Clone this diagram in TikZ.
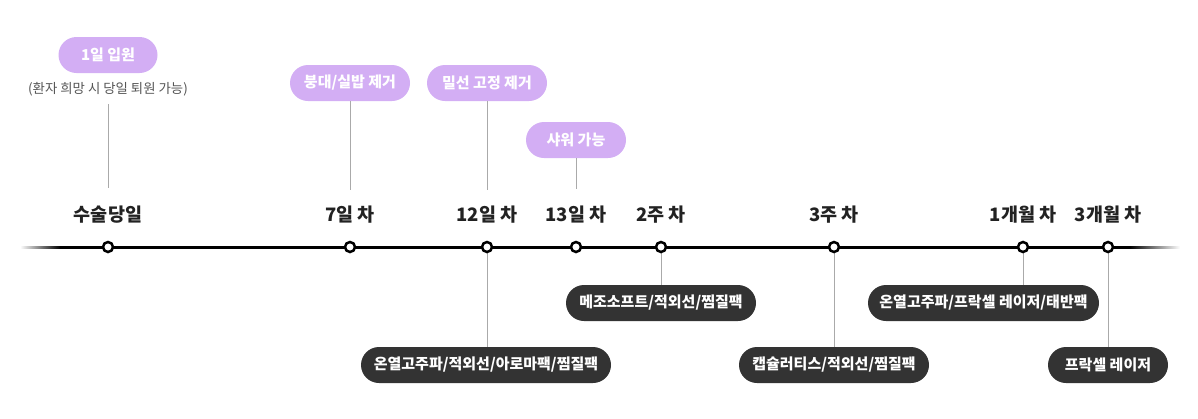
\documentclass[tikz,border=0pt]{standalone}
\usepackage{fontspec}
\setmainfont{Noto Sans CJK KR}
\usetikzlibrary{shapes.misc}
\definecolor{pp}{HTML}{D3AEF4}
\definecolor{dk}{HTML}{333333}
\definecolor{ln}{HTML}{AAAAAA}
\definecolor{tx}{HTML}{222222}
\definecolor{sub}{HTML}{555555}
\begin{document}
\begin{tikzpicture}[x=1pt,y=-1pt,
 pill/.style={rounded rectangle, minimum height=36pt, inner xsep=0pt, inner ysep=0pt, text=white, font=\fontsize{15}{15}\selectfont\bfseries},
 ppill/.style={pill, fill=pp},
 dpill/.style={pill, fill=dk},
 day/.style={font=\fontsize{18.5}{19}\selectfont\bfseries, text=tx, inner sep=0pt},
 subt/.style={font=\fontsize{13.4}{14}\selectfont, text=sub, inner sep=0pt},
 dot/.style={circle, draw=black, line width=2.5pt, fill=white, minimum size=10pt, inner sep=0pt},
 conn/.style={draw=ln, line width=1pt}]
\useasboundingbox (0,0) rectangle (1198,418);
% timeline
\fill[black] (60,245.5) rectangle (1130,248.5);
\foreach \k in {0,...,39} {
  \pgfmathsetmacro{\c}{2.5*\k}
  \fill[black!\c] (20+\k,245.5) rectangle (21.2+\k,248.5);
}
\foreach \k in {0,...,49} {
  \pgfmathsetmacro{\c}{100-2*\k}
  \fill[black!\c] (1130+\k,245.5) rectangle (1131.2+\k,248.5);
}
% day labels
\node[day] (l0) at (108,215) {수술당일};
\node[day] (l1) at (350,215) {7일 차};
\node[day] (l2) at (487,215) {12일 차};
\node[day] (l3) at (576,215) {13일 차};
\node[day] (l4) at (661,215) {2주 차};
\node[day] (l5) at (834,215) {3주 차};
\node[day] (l6) at (1023,215) {1개월 차};
\node[day] (l7) at (1108,215) {3개월 차};
% upper pills
\node[ppill, minimum width=99pt] (u0) at (108,55) {1일 입원};
\node[subt] (s0) at (108,89) {(환자 희망 시 당일 퇴원 가능)};
\node[ppill, minimum width=120pt] (u1) at (350,83) {붕대/실밥 제거};
\node[ppill, minimum width=120pt] (u2) at (487,83) {밀선 고정 제거};
\node[ppill, minimum width=100pt] (u3) at (576,140) {샤워 가능};
\coordinate (c0) at (108,104);
\coordinate (e0) at (108,188);
\coordinate (e1) at (350,190);
\coordinate (e2) at (487,190);
\coordinate (e3) at (576,189);
\draw[conn] (c0) -- (e0);
\draw[conn] (u1.south) -- (e1);
\draw[conn] (u2.south) -- (e2);
\draw[conn] (u3.south) -- (e3);
% dots
\coordinate (p0) at (108,247);
\coordinate (p1) at (350,247);
\coordinate (p2) at (487,247);
\coordinate (p3) at (576,247);
\coordinate (p4) at (661,247);
\coordinate (p5) at (834,247);
\coordinate (p6) at (1023,247);
\coordinate (p7) at (1108,247);
% lower pills
\node[dpill, minimum width=250pt] (b2) at (486,365) {온열고주파/적외선/아로마팩/찜질팩};
\node[dpill, minimum width=190pt] (b4) at (661,303) {메조소프트/적외선/찜질팩};
\node[dpill, minimum width=190pt] (b5) at (834,365) {캡슐러티스/적외선/찜질팩};
\node[dpill, minimum width=231pt] (b6) at (983.5,303) {온열고주파/프락셀 레이저/태반팩};
\node[dpill, minimum width=120pt] (b7) at (1108,365) {프락셀 레이저};
\draw[conn] (p2) -- (p2 |- b2.north);
\draw[conn] (p4) -- (b4.north);
\draw[conn] (p5) -- (b5.north);
\draw[conn] (p6) -- (p6 |- b6.north);
\draw[conn] (p7) -- (b7.north);
% dot nodes
\foreach \i in {0,...,7} { \node[dot] (d\i) at (p\i) {}; }
\end{tikzpicture}
\end{document}
